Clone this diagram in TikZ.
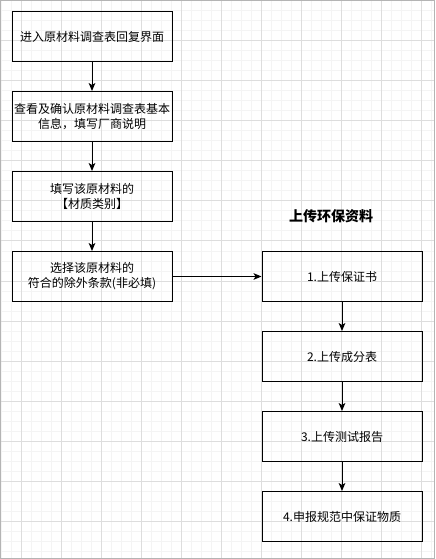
\documentclass[tikz,border=0pt]{standalone}
\usepackage{fontspec}
\newfontfamily\cjk{Noto Sans CJK SC}
\usetikzlibrary{arrows.meta}
\definecolor{gridminor}{HTML}{F4F4F4}
\definecolor{gridmajor}{HTML}{DDDDDD}
\definecolor{pageframe}{HTML}{B4B4B4}

\begin{document}
\begin{tikzpicture}[x=0.75pt,y=-0.75pt,
  stepbox/.style={draw,line width=0.75pt,minimum width=120pt,minimum height=37.5pt,
    inner sep=0pt,align=center,font=\cjk\fontsize{9}{11.25}\selectfont},
  flow/.style={-{Stealth[length=6pt,width=5pt,inset=1.5pt]},line width=0.75pt}]
  \useasboundingbox (0,0) rectangle (435,559);
  % grid background
  \fill[white] (0,0) rectangle (435,559);
  \foreach \x in {1,11,...,431} \draw[gridminor,line width=0.75pt] (\x,0)--(\x,559);
  \foreach \y in {1,11,...,551} \draw[gridminor,line width=0.75pt] (0,\y)--(435,\y);
  \foreach \x in {21,61,...,421} \draw[gridmajor,line width=0.75pt] (\x,0)--(\x,559);
  \foreach \y in {1,41,...,521} \draw[gridmajor,line width=0.75pt] (0,\y)--(435,\y);
  \draw[pageframe,line width=1pt] (0.6,0.6) rectangle (434.4,558.4);
  % left column
  \node[stepbox] (enter) at (92,36.5) {进入原材料调查表回复界面};
  \node[stepbox] (check) at (92,116.5) {查看及确认原材料调查表基本\\信息，填写厂商说明};
  \node[stepbox] (kind) at (92,196.5) {填写该原材料的\\【材质类别】};
  \node[stepbox] (except) at (92,276.5) {选择该原材料的\\符合的除外条款(非必填)};
  % right column
  \node[font=\cjk\bfseries\fontsize{10.5}{12}\selectfont] (title) at (331,216) {上传环保资料};
  \node[stepbox] (cert) at (342,276.5) {1.上传保证书};
  \node[stepbox] (comp) at (342,356.5) {2.上传成分表};
  \node[stepbox] (test) at (342,436.5) {3.上传测试报告};
  \node[stepbox] (declare) at (342,516.5) {4.申报规范中保证物质};
  % connectors
  \draw[flow] (enter) -- (check);
  \draw[flow] (check) -- (kind);
  \draw[flow] (kind) -- (except);
  \draw[flow] (except) -- (cert);
  \draw[flow] (cert) -- (comp);
  \draw[flow] (comp) -- (test);
  \draw[flow] (test) -- (declare);
\end{tikzpicture}
\end{document}
